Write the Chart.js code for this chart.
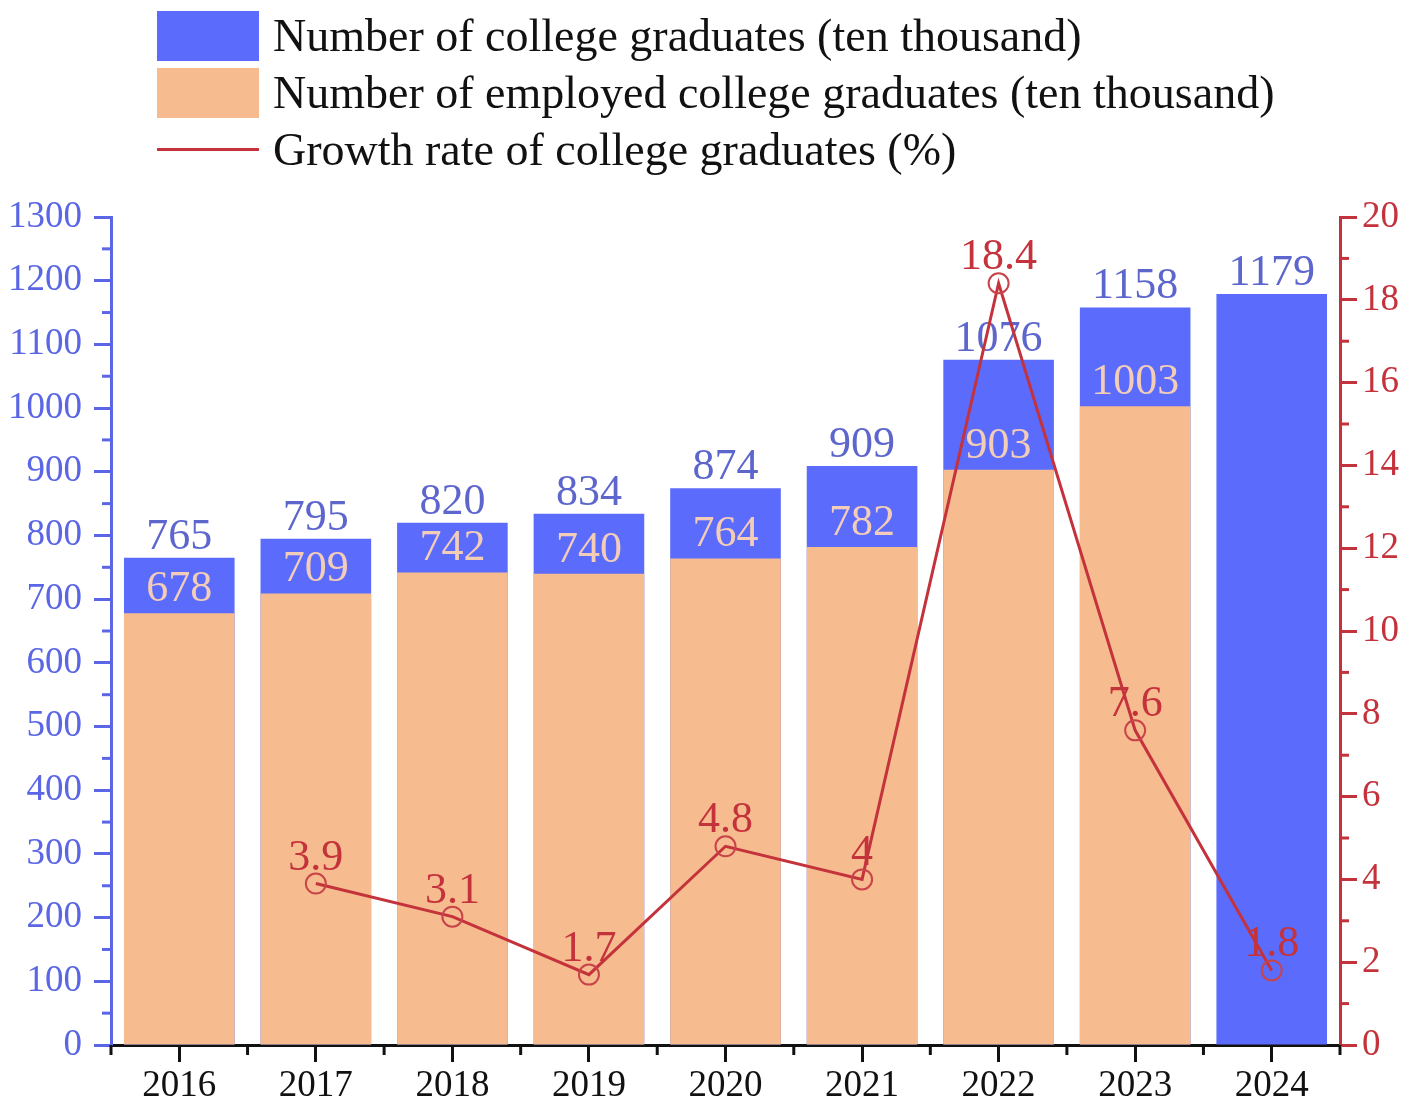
<!DOCTYPE html>
<html>
<head>
<meta charset="utf-8">
<script src="https://cdn.jsdelivr.net/npm/chart.js@4.4.1/dist/chart.umd.min.js"></script>
<style>
body{margin:0;background:#fff;}
#wrap{position:relative;width:1417px;height:1107px;}
#legend{position:absolute;left:157px;top:7px;font-family:"Liberation Serif",serif;font-size:46px;color:#111;}
.item{display:flex;align-items:center;height:57px;white-space:nowrap;}
.sw{width:102px;height:50px;margin-right:14px;}
.ln{width:102px;height:3px;margin-right:14px;background:#c4323c;}
</style>
</head>
<body>
<div id="wrap">
<canvas id="mychart" width="1417" height="1107"></canvas>
<div id="legend">
 <div class="item"><div class="sw" style="background:#5b6cfd"></div>Number of college graduates (ten thousand)</div>
 <div class="item"><div class="sw" style="background:#f6bb8e"></div>Number of employed college graduates (ten thousand)</div>
 <div class="item"><div class="ln"></div>Growth rate of college graduates (%)</div>
</div>
</div>
<script>
// data
var years = ["2016","2017","2018","2019","2020","2021","2022","2023","2024"]
var graduates = [765,795,820,834,874,909,1076,1158,1179]
var employed = [678,709,742,740,764,782,903,1003,null]
var growth = [null,3.9,3.1,1.7,4.8,4.0,18.4,7.6,1.8]
var leftMax = 1300, leftStep = 100
var rightMax = 20, rightStep = 2

var blue = "#5b6cfd", orange = "#f6bb8e", red = "#c4323c"
var leftColor = "#5a66e6", rightColor = "#c4323c"
var font = '"Liberation Serif", "Times New Roman", serif'

// value labels over bars and points
var valueLabels = {
	id:"valueLabels",
	afterDatasetDraw(chart, args){
		var ds = chart.data.datasets[args.index]
		if (ds.type == "line") return
		var ctx = chart.ctx
		ctx.save()
		ctx.font = "44px " + font
		ctx.fillStyle = ds.labelColor
		ctx.textAlign = "center"
		ctx.textBaseline = "alphabetic"
		args.meta.data.forEach((el,i)=>{
			if (ds.data[i] == null) return
			ctx.fillText(ds.data[i], el.x, el.y - ds.labelGap)
		})
		ctx.restore()
	},
	afterDatasetsDraw(chart){
		var ctx = chart.ctx
		chart.data.datasets.forEach((ds,k)=>{
			if (ds.type != "line") return
			var meta = chart.getDatasetMeta(k)
			ctx.save()
			ctx.font = "44px " + font
			ctx.fillStyle = red
			ctx.textAlign = "center"
			meta.data.forEach((el,i)=>{
				if (ds.data[i] == null) return
				ctx.fillText(ds.data[i], el.x, el.y - 14)
			})
			ctx.restore()
		})
	}
}

// minor ticks between the major ones
var minorTicks = {
	id:"minorTicks",
	afterDraw(chart){
		var ctx = chart.ctx, a = chart.chartArea
		var x = chart.scales.x, y = chart.scales.y, y1 = chart.scales.y1
		ctx.save()
		ctx.lineWidth = 3
		ctx.strokeStyle = leftColor
		for (var v = leftStep/2; v < leftMax; v += leftStep){
			var p = y.getPixelForValue(v)
			ctx.beginPath(); ctx.moveTo(a.left-9,p); ctx.lineTo(a.left,p); ctx.stroke()
		}
		ctx.strokeStyle = rightColor
		for (var v = rightStep/2; v < rightMax; v += rightStep){
			var p = y1.getPixelForValue(v)
			ctx.beginPath(); ctx.moveTo(a.right,p); ctx.lineTo(a.right+9,p); ctx.stroke()
		}
		ctx.strokeStyle = "#111"
		for (var i = 0; i <= years.length; i++){
			var p = x.getPixelForValue(i-0.5)
			ctx.beginPath(); ctx.moveTo(p,a.bottom); ctx.lineTo(p,a.bottom+10); ctx.stroke()
		}
		ctx.restore()
	}
}

var myChart = document.getElementById("mychart").getContext("2d")

var chart = new Chart(myChart,{
	type:"bar",
	data:{
		labels:years,
		datasets:[
			{
				type:"line",
				label:"Growth rate of college graduates (%)",
				data:growth,
				yAxisID:"y1",
				borderColor:red,
				borderWidth:3,
				pointRadius:10,
				pointBorderWidth:2,
				pointBackgroundColor:"rgba(0,0,0,0)",
				pointBorderColor:"#c8434a",
				tension:0,
				order:0
			},
			{
				label:"Number of employed college graduates (ten thousand)",
				data:employed,
				yAxisID:"y",
				backgroundColor:orange,
				labelColor:"#f4cdb8",
				labelGap:12,
				order:1
			},
			{
				label:"Number of college graduates (ten thousand)",
				data:graduates,
				yAxisID:"y",
				backgroundColor:blue,
				labelColor:"#5d66cc",
				labelGap:9,
				order:2
			}
		]
	},
	options:{
		responsive:false,
		animation:false,
		layout:{padding:{top:217,left:0,right:0,bottom:0}},
		datasets:{bar:{grouped:false,categoryPercentage:1,barPercentage:0.81}},
		plugins:{legend:{display:false},tooltip:{enabled:false}},
		scales:{
			x:{
				offset:true,
				grid:{offset:false,drawOnChartArea:false,tickLength:17,tickWidth:3,tickColor:"#111"},
				border:{color:"#111",width:3},
				ticks:{color:"#111",font:{family:font,size:37},padding:2},
				afterFit(s){ s.height = 62 }
			},
			y:{
				position:"left",
				min:0,max:leftMax,
				grid:{drawOnChartArea:false,tickLength:17,tickWidth:3,tickColor:leftColor},
				border:{color:leftColor,width:3},
				ticks:{stepSize:leftStep,color:leftColor,font:{family:font,size:37},padding:12,
					callback:(v)=>String(v)},
				afterFit(s){ s.width = 111 }
			},
			y1:{
				position:"right",
				min:0,max:rightMax,
				grid:{drawOnChartArea:false,tickLength:17,tickWidth:3,tickColor:rightColor},
				border:{color:rightColor,width:3},
				ticks:{stepSize:rightStep,color:rightColor,font:{family:font,size:37},padding:5,
					callback:(v)=>String(v)},
				afterFit(s){ s.width = 77 }
			}
		}
	},
	plugins:[valueLabels,minorTicks]
})
</script>
</body>
</html>
